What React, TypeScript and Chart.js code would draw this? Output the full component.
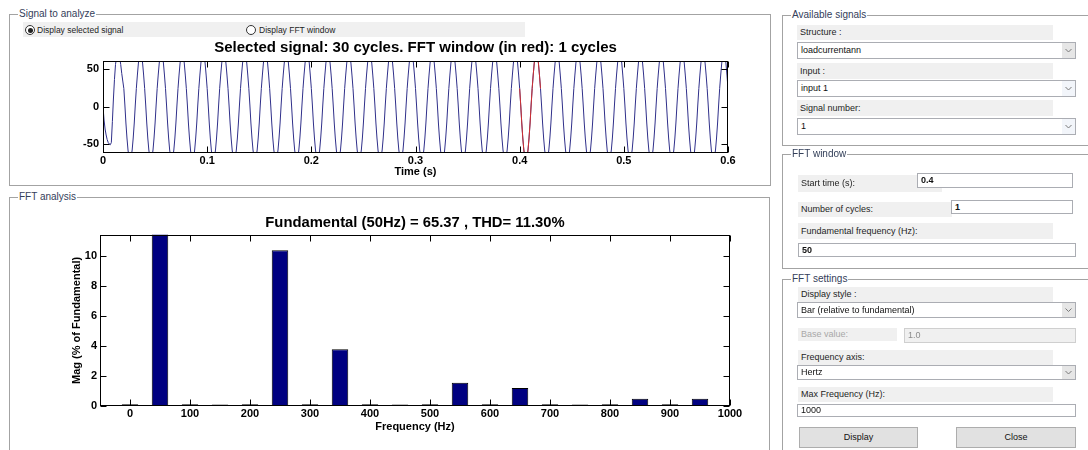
import React, { useEffect, useRef } from "react";
import { Chart, registerables } from "chart.js";

Chart.register(...registerables);

// ---------------- Signal (time domain) ----------------
const SIGNAL_DT = 0.001; // sample step (s)
const SIGNAL_FIRST_CYCLE = [0, -18, -30, -38, -44, -48, -50, -51, -48, -20, 10, 36, 56, 66, 72, 72, 66, 56, 44, 34];
const SIGNAL_STEADY_CYCLE = [24, 2, -22, -42, -58, -68, -72, -68, -58, -42, -22, 2, 24, 42, 58, 68, 72, 68, 58, 42];
const SIGNAL_CYCLES = 30;
const WINDOW_START = 0.4;
const WINDOW_CYCLES = 1;
const FUNDAMENTAL_HZ = 50;
const TIME_TICKS = [0, 0.1, 0.2, 0.3, 0.4, 0.5, 0.6];
const SIGNAL_TICKS = [-50, 0, 50];
const TIME_RANGE = [0, 0.6];
const SIGNAL_RANGE = [-62, 60.7];

// ---------------- FFT (harmonics, % of fundamental) ----------------
const HARMONIC_FREQS = [0, 50, 100, 150, 200, 250, 300, 350, 400, 450, 500, 550, 600, 650, 700, 750, 800, 850, 900, 950];
const HARMONIC_MAGS = [0.12, 100, 0.12, 0.1, 0.12, 10.42, 0.12, 3.8, 0.12, 0.1, 0.12, 1.55, 0.12, 1.2, 0.12, 0.1, 0.12, 0.48, 0.12, 0.48];
const FREQ_TICKS = [0, 100, 200, 300, 400, 500, 600, 700, 800, 900, 1000];
const MAG_TICKS = [0, 2, 4, 6, 8, 10];
const FREQ_RANGE = [-50, 1000];
const MAG_RANGE = [0, 11.45];

const TOP_TITLE = "Selected signal: 30 cycles. FFT window (in red): 1 cycles";
const FFT_TITLE = "Fundamental (50Hz) = 65.37 , THD= 11.30%";

const AX_FONT = "'Liberation Sans Narrow', 'Arial Narrow', 'Liberation Sans', Arial, sans-serif";
const TITLE_FONT = "'Liberation Sans', Arial, Helvetica, sans-serif";
const UI_FONT = "'Liberation Sans', Arial, sans-serif";

// build series from the read cycle samples
const signalValues: number[] = [...SIGNAL_FIRST_CYCLE];
for (let c = 1; c < SIGNAL_CYCLES; c++) signalValues.push(...SIGNAL_STEADY_CYCLE);
signalValues.push(SIGNAL_STEADY_CYCLE[0]);
const signalPoints = signalValues.map((y, i) => ({ x: Math.round(i * SIGNAL_DT * 1e6) / 1e6, y }));
const WINDOW_END = WINDOW_START + WINDOW_CYCLES / FUNDAMENTAL_HZ;
const windowPoints = signalPoints.filter((p) => p.x >= WINDOW_START - 1e-9 && p.x <= WINDOW_END + 1e-9);
const fftPoints = HARMONIC_FREQS.map((f, i) => ({ x: f, y: HARMONIC_MAGS[i] }));

const framePlugin = {
  id: "matlabFrame",
  afterDatasetsDraw(chart: any) {
    const { ctx, chartArea: a, scales } = chart;
    const len = 6;
    const xs = scales.x;
    const ys = scales.y;
    const L = Math.round(a.left) + 0.5;
    const R = Math.round(a.right) - 0.5;
    const T = Math.round(a.top) + 0.5;
    const B = Math.round(a.bottom) - 0.5;
    ctx.save();
    ctx.strokeStyle = "#000";
    ctx.lineWidth = 1;
    ctx.beginPath();
    xs.ticks.forEach((t: any) => {
      const p = Math.round(xs.getPixelForValue(t.value)) + 0.5;
      ctx.moveTo(p, T);
      ctx.lineTo(p, T + len);
      ctx.moveTo(p, B);
      ctx.lineTo(p, B - len);
    });
    ys.ticks.forEach((t: any) => {
      const p = Math.round(ys.getPixelForValue(t.value)) + 0.5;
      ctx.moveTo(L, p);
      ctx.lineTo(L + len, p);
      ctx.moveTo(R, p);
      ctx.lineTo(R - len, p);
    });
    ctx.stroke();
    ctx.strokeRect(L, T, R - L, B - T);
    ctx.restore();
  },
};

const axisFont = { family: AX_FONT, size: 11, weight: "bold" as const };

function dummyRight(width: number) {
  return {
    type: "linear" as const,
    position: "right" as const,
    display: true,
    ticks: { display: false },
    grid: { display: false, drawTicks: false },
    border: { display: false },
    afterFit: (s: any) => {
      s.width = width;
    },
  };
}

function Label({ x, y, w, h, text, color = "#1e1e1e" }: any) {
  return (
    <div
      style={{
        position: "absolute", left: x, top: y, width: w, height: h, background: "#f0f0f0",
        fontSize: 9, lineHeight: h + "px", paddingLeft: 3, boxSizing: "border-box", color, whiteSpace: "nowrap",
      }}
    >
      {text}
    </div>
  );
}

function Field({ x, y, w, h, text, bold = false, arrow = false, arrowBg = "#f2f5fa", disabled = false }: any) {
  return (
    <div
      style={{
        position: "absolute", left: x, top: y, width: w, height: h, boxSizing: "border-box",
        border: "1px solid " + (disabled ? "#cfcfcf" : "#abadb3"), background: disabled ? "#f0f0f0" : "#fff",
        fontSize: 9, lineHeight: h - 2 + "px", paddingLeft: 3, color: disabled ? "#8c8c8c" : "#111",
        fontWeight: bold ? "bold" : "normal", whiteSpace: "nowrap", overflow: "hidden",
      }}
    >
      {text}
      {arrow && (
        <div style={{ position: "absolute", right: 0, top: 0, width: 13, height: h - 2, background: arrowBg }}>
          <svg width="13" height={h - 2} style={{ display: "block" }}>
            <polyline points={`3.5,${(h - 2) / 2 - 1.5} 6.5,${(h - 2) / 2 + 1.5} 9.5,${(h - 2) / 2 - 1.5}`} fill="none" stroke="#7a7a7a" strokeWidth="1" />
          </svg>
        </div>
      )}
    </div>
  );
}

function Button({ x, y, w, h, text }: any) {
  return (
    <div
      style={{
        position: "absolute", left: x, top: y, width: w, height: h, boxSizing: "border-box",
        border: "1px solid #adadad", background: "#e1e1e1", fontSize: 9, lineHeight: h - 2 + "px",
        textAlign: "center", color: "#111",
      }}
    >
      {text}
    </div>
  );
}

function Panel({ x, y, w, h, title }: any) {
  return (
    <div style={{ position: "absolute", left: x, top: y, width: w, height: h, border: "1px solid #a3a3a3", boxSizing: "border-box" }}>
      <span
        style={{
          position: "absolute", left: 8, top: -7, background: "#fff", padding: "0 1px", fontSize: 10,
          lineHeight: "12px", color: "#34405a", whiteSpace: "nowrap",
        }}
      >
        {title}
      </span>
    </div>
  );
}

function Radio({ cx, cy, checked }: any) {
  return (
    <div
      style={{
        position: "absolute", left: cx - 5, top: cy - 5, width: 10, height: 10, boxSizing: "border-box",
        borderRadius: "50%", border: "1px solid #333", background: "#fff",
      }}
    >
      {checked && <div style={{ position: "absolute", left: 1.5, top: 1.5, width: 5, height: 5, borderRadius: "50%", background: "#222" }} />}
    </div>
  );
}

export default function App() {
  const topRef = useRef<HTMLCanvasElement | null>(null);
  const fftRef = useRef<HTMLCanvasElement | null>(null);

  useEffect(() => {
    const top = new Chart(topRef.current as HTMLCanvasElement, {
      type: "line",
      data: {
        datasets: [
          { data: signalPoints, borderColor: "#2f2f8a", borderWidth: 1, pointRadius: 0, tension: 0, clip: 0, order: 2 } as any,
          { data: windowPoints, borderColor: "#d03030", borderWidth: 1, pointRadius: 0, tension: 0, clip: 0, order: 1 } as any,
        ],
      },
      options: {
        animation: false,
        responsive: false,
        events: [],
        layout: { padding: 0 },
        plugins: {
          legend: { display: false },
          tooltip: { enabled: false },
          title: {
            display: true, text: TOP_TITLE, color: "#000",
            font: { family: TITLE_FONT, size: 15, weight: "bold" }, padding: { top: 2, bottom: 4 },
          },
        },
        scales: {
          x: {
            type: "linear", min: TIME_RANGE[0], max: TIME_RANGE[1],
            afterBuildTicks: (s: any) => { s.ticks = TIME_TICKS.map((v) => ({ value: v })); },
            ticks: { color: "#000", font: axisFont, padding: 1, maxRotation: 0, autoSkip: false, callback: (v: any) => String(v) },
            grid: { display: false, drawTicks: false },
            border: { display: false },
            title: { display: true, text: "Time (s)", color: "#000", font: axisFont, padding: { top: 0, bottom: 3.4 } },
            afterFit: (s: any) => { s.height = 29; },
          },
          y: {
            type: "linear", min: SIGNAL_RANGE[0], max: SIGNAL_RANGE[1],
            afterBuildTicks: (s: any) => { s.ticks = SIGNAL_TICKS.map((v) => ({ value: v })); },
            ticks: { color: "#000", font: axisFont, padding: 4, callback: (v: any) => String(v) },
            grid: { display: false, drawTicks: false },
            border: { display: false },
            afterFit: (s: any) => { s.width = 53; },
          },
          y2: dummyRight(53),
        },
      } as any,
      plugins: [framePlugin],
    });

    const fft = new Chart(fftRef.current as HTMLCanvasElement, {
      type: "bar",
      data: {
        datasets: [
          {
            data: fftPoints as any, backgroundColor: "#000080", borderColor: "#000", borderWidth: 1,
            barPercentage: 0.55, categoryPercentage: 1, clip: 0,
          } as any,
        ],
      },
      options: {
        animation: false,
        responsive: false,
        events: [],
        layout: { padding: 0 },
        plugins: {
          legend: { display: false },
          tooltip: { enabled: false },
          title: {
            display: true, text: FFT_TITLE, color: "#000",
            font: { family: TITLE_FONT, size: 14.8, weight: "bold" }, padding: { top: 4, bottom: 3 },
          },
        },
        scales: {
          x: {
            type: "linear", min: FREQ_RANGE[0], max: FREQ_RANGE[1], offset: false,
            afterBuildTicks: (s: any) => { s.ticks = FREQ_TICKS.map((v) => ({ value: v })); },
            ticks: { color: "#000", font: axisFont, padding: 1, maxRotation: 0, autoSkip: false, callback: (v: any) => String(v) },
            grid: { display: false, drawTicks: false, offset: false },
            border: { display: false },
            title: { display: true, text: "Frequency (Hz)", color: "#000", font: axisFont, padding: { top: 0, bottom: 3.4 } },
            afterFit: (s: any) => { s.height = 31; },
          },
          y: {
            type: "linear", min: MAG_RANGE[0], max: MAG_RANGE[1],
            afterBuildTicks: (s: any) => { s.ticks = MAG_TICKS.map((v) => ({ value: v })); },
            ticks: { color: "#000", font: axisFont, padding: 3, callback: (v: any) => String(v) },
            grid: { display: false, drawTicks: false },
            border: { display: false },
            title: { display: true, text: "Mag (% of Fundamental)", color: "#000", font: axisFont, padding: { top: 30.4, bottom: 0 } },
            afterFit: (s: any) => { s.width = 60; },
          },
          y2: dummyRight(60),
        },
      } as any,
      plugins: [framePlugin],
    });

    return () => {
      top.destroy();
      fft.destroy();
    };
  }, []);

  return (
    <div
      style={{
        position: "absolute", left: 0, top: 0, width: 1088, height: 450, overflow: "hidden",
        background: "#fff", fontFamily: UI_FONT,
      }}
    >
      {/* Left: signal panel */}
      <Panel x={9} y={14} w={762} h={172} title="Signal to analyze" />
      <div style={{ position: "absolute", left: 23, top: 22, width: 502, height: 15, background: "#f0f0f0" }} />
      <Radio cx={30} cy={30} checked />
      <div style={{ position: "absolute", left: 37, top: 24, fontSize: 8.5, lineHeight: "12px", color: "#1e1e1e", whiteSpace: "nowrap" }}>
        Display selected signal
      </div>
      <Radio cx={251} cy={30} checked={false} />
      <div style={{ position: "absolute", left: 259, top: 24, fontSize: 8.5, lineHeight: "12px", color: "#1e1e1e", whiteSpace: "nowrap" }}>
        Display FFT window
      </div>

      {/* Left: FFT panel */}
      <Panel x={9} y={197} w={761} h={270} title="FFT analysis" />

      <canvas ref={topRef} width={731} height={145} style={{ position: "absolute", left: 50, top: 37, width: 731, height: 145 }} />
      <canvas ref={fftRef} width={750} height={227} style={{ position: "absolute", left: 40, top: 210, width: 750, height: 227 }} />

      {/* Right: Available signals */}
      <Panel x={782} y={15} w={320} h={131} title="Available signals" />
      <Label x={797} y={25} w={256} h={15} text="Structure :" />
      <Field x={797} y={42} w={279} h={17} text="loadcurrentann" arrow arrowBg="#e6e6e6" />
      <Label x={797} y={63} w={256} h={16} text="Input :" />
      <Field x={797} y={80} w={279} h={17} text="input 1" arrow />
      <Label x={797} y={100} w={256} h={16} text="Signal number:" />
      <Field x={797} y={118} w={279} h={17} text="1" arrow />

      {/* Right: FFT window */}
      <Panel x={782} y={154} w={320} h={115} title="FFT window" />
      <Label x={798} y={175} w={144} h={17} text="Start time (s):" />
      <Field x={917} y={173} w={156} h={15} text="0.4" bold />
      <Label x={798} y={202} w={154} h={15} text="Number of cycles:" />
      <Field x={951} y={200} w={122} h={14} text="1" bold />
      <Label x={798} y={223} w={255} h={16} text="Fundamental frequency (Hz):" />
      <Field x={798} y={243} w={278} h={14} text="50" bold />

      {/* Right: FFT settings */}
      <Panel x={782} y={279} w={320} h={200} title="FFT settings" />
      <Label x={798} y={287} w={255} h={15} text="Display style :" />
      <Field x={797} y={302} w={279} h={16} text="Bar (relative to fundamental)" arrow arrowBg="#e6e6e6" />
      <Label x={798} y={328} w={99} h={13} text="Base value:" color="#a8a8a8" />
      <Field x={904} y={328} w={172} h={15} text="1.0" disabled />
      <Label x={798} y={350} w={255} h={15} text="Frequency axis:" />
      <Field x={797} y={365} w={279} h={15} text="Hertz" arrow arrowBg="#e6e6e6" />
      <Label x={798} y={387} w={255} h={15} text="Max Frequency (Hz):" />
      <Field x={797} y={404} w={279} h={13} text="1000" />
      <Button x={799} y={427} w={119} h={21} text="Display" />
      <Button x={956} y={427} w={120} h={21} text="Close" />
    </div>
  );
}
